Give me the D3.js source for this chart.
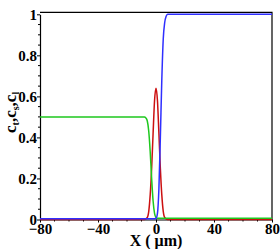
<!DOCTYPE html>
<html>
<head>
<meta charset="utf-8">
<script src="https://cdn.jsdelivr.net/npm/d3@7"></script>
<style>
  body { margin: 0; background: #fff; }
</style>
</head>
<body>
<div id="chart"></div>
<script>
// values (X in micrometres)
const xTicks = [-80, -40, 0, 40, 80];
const yTicks = [0, 0.2, 0.4, 0.6, 0.8, 1];

const redX = [-80, -8, -6, -5, -4, -3, -2, -1, 0, 1, 2, 3, 4, 5, 6, 8, 80];
const redY = [0, 0, 0.01, 0.04, 0.12, 0.25, 0.42, 0.58, 0.64, 0.58, 0.42, 0.25, 0.12, 0.04, 0.01, 0, 0];

const greenX = [-80, -8, -7, -6, -5, -4, -3, -2, -1, 0, 1, 80];
const greenY = [0.5, 0.5, 0.495, 0.48, 0.43, 0.33, 0.2, 0.09, 0.03, 0.01, 0.006, 0.006];

const blueX = [-80, -1, 0, 1, 2, 3, 4, 5, 6, 7, 8, 80];
const blueY = [0.004, 0.004, 0.006, 0.03, 0.15, 0.4, 0.68, 0.88, 0.96, 0.99, 1.0, 1.0];

const width = 280, height = 249;
const margin = { top: 14.3, right: 8, bottom: 29.5, left: 40 };
const serif = '"Liberation Serif", "Times New Roman", serif';

const svg = d3.select('#chart').append('svg')
  .attr('width', width).attr('height', height);

const x = d3.scaleLinear().domain([-80, 80]).range([margin.left, width - margin.right]);
const y = d3.scaleLinear().domain([0, 1]).range([height - margin.bottom, margin.top]);

// frame top and right
svg.append('path')
  .attr('d', `M${x(-80)},${margin.top - 2}H${x(80)}V${y(0)}`)
  .attr('fill', 'none').attr('stroke', '#000').attr('stroke-width', 1.2);

// minor ticks
const xMinor = d3.range(-80, 81, 10).filter(v => v % 40 !== 0);
const yMinor = d3.range(0, 1.001, 0.05).filter(v => Math.abs(v * 5 - Math.round(v * 5)) > 1e-6);

const gx = svg.append('g').attr('transform', `translate(0,${y(0)})`);
gx.call(d3.axisBottom(x).tickValues(xTicks).tickSize(3).tickSizeOuter(0).tickPadding(0).tickFormat(d3.format('d')));
xMinor.forEach(v => gx.append('line').attr('x1', x(v)).attr('x2', x(v)).attr('y1', 0).attr('y2', 2).attr('stroke', '#000'));

const gy = svg.append('g').attr('transform', `translate(${x(-80)},0)`);
gy.call(d3.axisLeft(y).tickValues(yTicks).tickSize(3).tickSizeOuter(0).tickPadding(0)
  .tickFormat(d => d === 0 || d === 1 ? d3.format('d')(d) : d3.format('.1f')(d)));
yMinor.forEach(v => gy.append('line').attr('y1', y(v)).attr('y2', y(v)).attr('x1', 0).attr('x2', -2).attr('stroke', '#000'));

svg.selectAll('.domain').attr('stroke', '#000').attr('stroke-width', 1.2);
[gx, gy].forEach(g => g.attr('font-family', serif).attr('font-size', 15).attr('font-weight', 'bold'));
svg.selectAll('.tick text').attr('fill', '#000');
gy.selectAll('.tick text').attr('dy', '0.36em');
gx.selectAll('.tick text').attr('dy', '0.74em');

// curves
const line = d3.line().x(d => x(d[0])).y(d => y(d[1])).curve(d3.curveMonotoneX);
const series = [
  { xs: redX, ys: redY, color: '#cc1010' },
  { xs: greenX, ys: greenY, color: '#1ec81e' },
  { xs: blueX, ys: blueY, color: '#2f2fff' }
];
series.forEach(s => {
  svg.append('path')
    .datum(s.xs.map((v, i) => [v, s.ys[i]]))
    .attr('d', line)
    .attr('fill', 'none')
    .attr('stroke', s.color)
    .attr('stroke-width', 1.5);
});

// axis titles
svg.append('text')
  .attr('x', x(0)).attr('y', 246)
  .attr('text-anchor', 'middle')
  .attr('font-family', serif).attr('font-weight', 'bold').attr('font-size', 16)
  .text('X ( \u03bcm)');

const yt = svg.append('text')
  .attr('transform', `translate(16,133) rotate(-90)`)
  .attr('font-family', serif).attr('font-weight', 'bold').attr('font-size', 17);
[['c', 't', ','], ['c', 's', ','], ['c', 'l', '']].forEach(p => {
  yt.append('tspan').text(p[0]);
  yt.append('tspan').attr('font-size', 10).attr('dy', 3).text(p[1]);
  yt.append('tspan').attr('dy', -3).text(p[2]);
});
</script>
</body>
</html>
